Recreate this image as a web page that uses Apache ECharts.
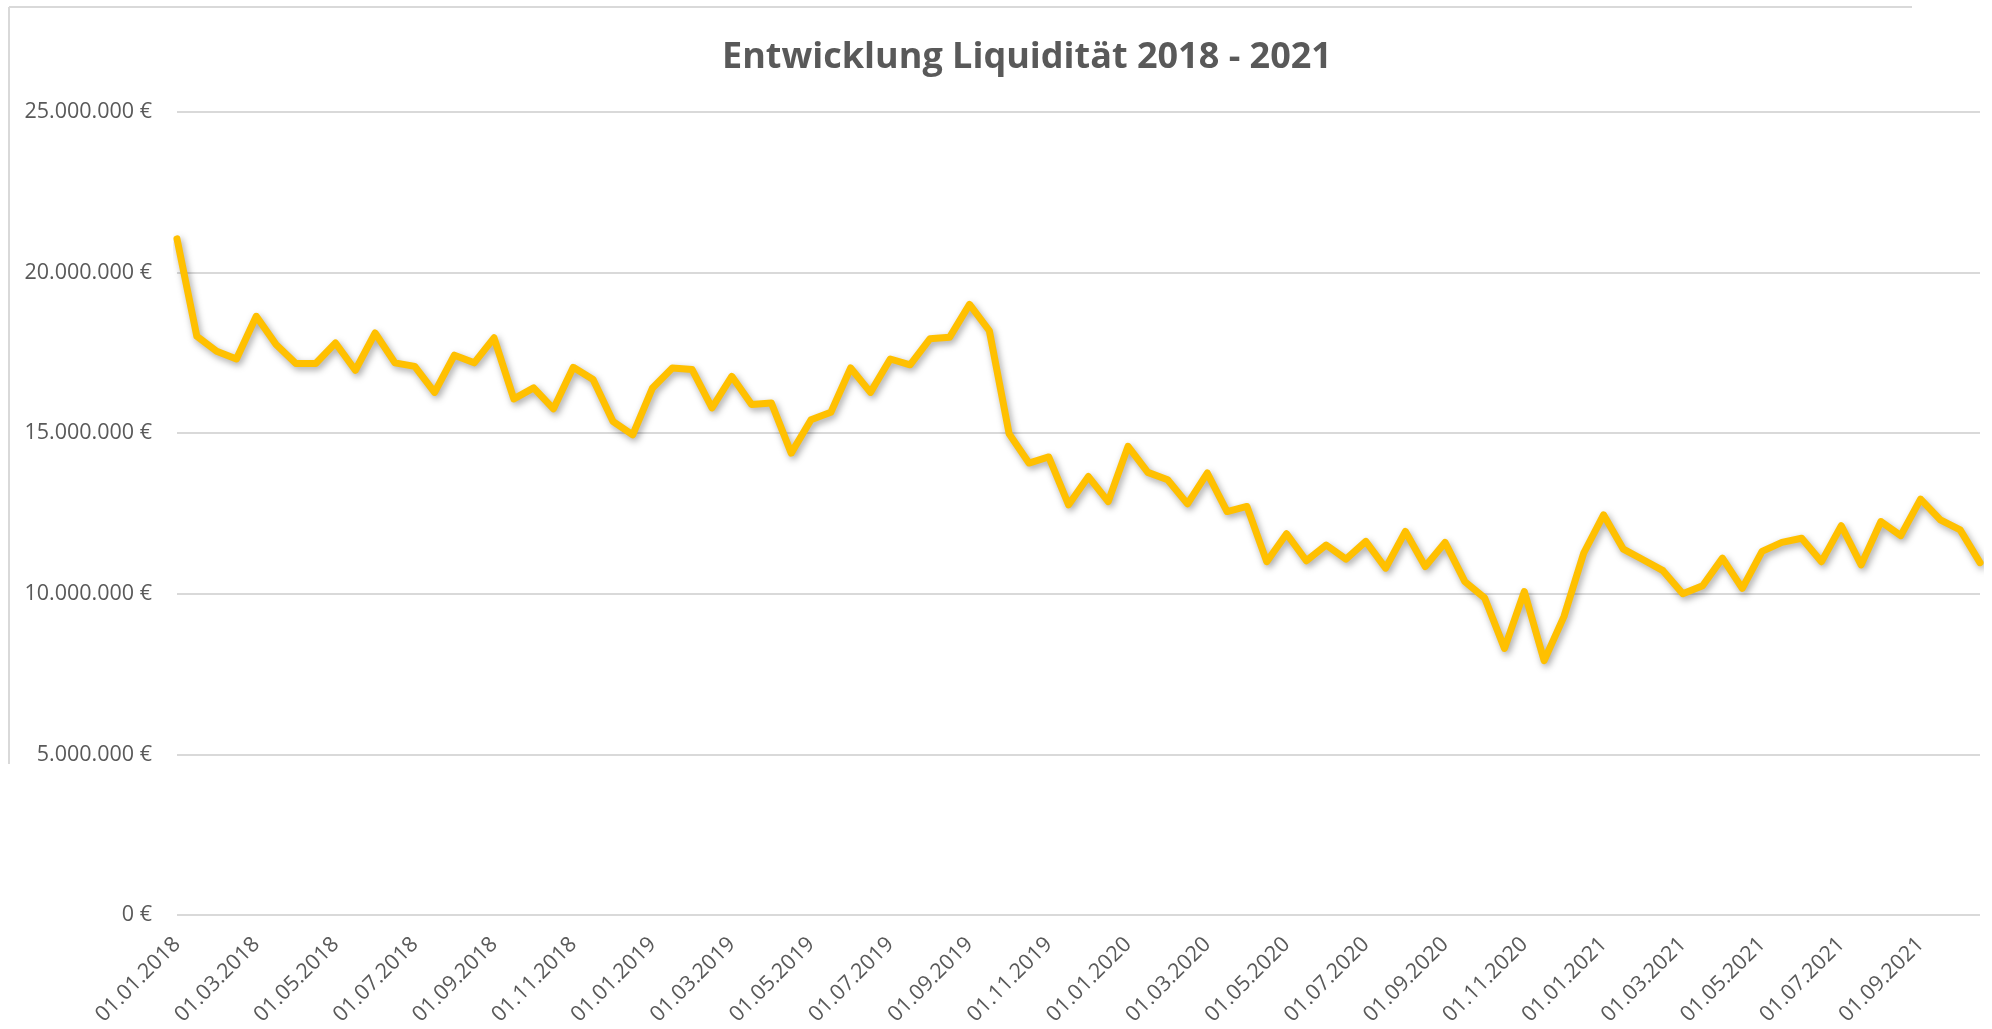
<!DOCTYPE html>
<html>
<head>
<meta charset="utf-8">
<script src="https://cdn.jsdelivr.net/npm/echarts@6/dist/echarts.min.js"></script>
<style>
  html, body { margin: 0; padding: 0; background: #fff; }
  #chart-container { width: 1992px; height: 1029px; }
</style>
</head>
<body>
<div id="chart-container"></div>
<script>
const titleText = 'Entwicklung Liquidität 2018 - 2021';

const dates = [
  '01.01.2018', '15.01.2018', '01.02.2018', '15.02.2018', '01.03.2018', '15.03.2018',
  '01.04.2018', '15.04.2018', '01.05.2018', '15.05.2018', '01.06.2018', '15.06.2018',
  '01.07.2018', '15.07.2018', '01.08.2018', '15.08.2018', '01.09.2018', '15.09.2018',
  '01.10.2018', '15.10.2018', '01.11.2018', '15.11.2018', '01.12.2018', '15.12.2018',
  '01.01.2019', '15.01.2019', '01.02.2019', '15.02.2019', '01.03.2019', '15.03.2019',
  '01.04.2019', '15.04.2019', '01.05.2019', '15.05.2019', '01.06.2019', '15.06.2019',
  '01.07.2019', '15.07.2019', '01.08.2019', '15.08.2019', '01.09.2019', '15.09.2019',
  '01.10.2019', '15.10.2019', '01.11.2019', '15.11.2019', '01.12.2019', '15.12.2019',
  '01.01.2020', '15.01.2020', '01.02.2020', '15.02.2020', '01.03.2020', '15.03.2020',
  '01.04.2020', '15.04.2020', '01.05.2020', '15.05.2020', '01.06.2020', '15.06.2020',
  '01.07.2020', '15.07.2020', '01.08.2020', '15.08.2020', '01.09.2020', '15.09.2020',
  '01.10.2020', '15.10.2020', '01.11.2020', '15.11.2020', '01.12.2020', '15.12.2020',
  '01.01.2021', '15.01.2021', '01.02.2021', '15.02.2021', '01.03.2021', '15.03.2021',
  '01.04.2021', '15.04.2021', '01.05.2021', '15.05.2021', '01.06.2021', '15.06.2021',
  '01.07.2021', '15.07.2021', '01.08.2021', '15.08.2021', '01.09.2021', '15.09.2021',
  '01.10.2021', '15.10.2021'
];

// Liquidität in Euro
const liquiditaet = [
  21050000, 18020000, 17550000, 17310000, 18640000, 17760000, 17170000, 17170000, 17810000, 16960000,
  18120000, 17190000, 17080000, 16270000, 17430000, 17190000, 17970000, 16070000, 16410000, 15760000,
  17050000, 16670000, 15370000, 14950000, 16410000, 17030000, 16980000, 15790000, 16770000, 15890000,
  15940000, 14380000, 15420000, 15650000, 17030000, 16270000, 17310000, 17130000, 17940000, 17990000,
  19010000, 18190000, 14980000, 14070000, 14260000, 12770000, 13650000, 12870000, 14590000, 13780000,
  13550000, 12800000, 13760000, 12560000, 12720000, 11000000, 11870000, 11030000, 11520000, 11080000,
  11630000, 10800000, 11940000, 10850000, 11600000, 10380000, 9870000, 8300000, 10070000, 7920000,
  9290000, 11270000, 12460000, 11390000, 11060000, 10720000, 10000000, 10250000, 11110000, 10170000,
  11320000, 11600000, 11730000, 11000000, 12120000, 10900000, 12250000, 11810000, 12950000, 12300000,
  11990000, 10970000
];

const yMin = 0;
const yMax = 25000000;
const yStep = 5000000;

function euro(value) {
  return String(value).replace(/\B(?=(\d{3})+(?!\d))/g, '.') + ' €';
}

function init() {
  let textColor = '#595959';
  let gridColor = '#d9d9d9';

  let option = {
    backgroundColor: '#ffffff',
    animation: false,
    title: {
      text: titleText,
      left: 717,
      top: 35,
      textStyle: {
        fontFamily: 'Open Sans',
        fontWeight: 'bold',
        fontSize: 36,
        color: textColor
      }
    },
    grid: {
      left: 177,
      right: 12,
      top: 112,
      bottom: 114,
      outerBoundsMode: 'none'
    },
    xAxis: {
      type: 'category',
      data: dates,
      boundaryGap: false,
      axisLine: { show: false },
      axisTick: { show: false },
      axisLabel: {
        interval: 3,
        rotate: 45,
        margin: 26,
        fontFamily: 'Open Sans',
        fontSize: 21.5,
        color: textColor
      }
    },
    yAxis: {
      type: 'value',
      min: yMin,
      max: yMax,
      interval: yStep,
      axisLine: { show: false },
      axisTick: { show: false },
      axisLabel: {
        margin: 25,
        fontFamily: 'Open Sans',
        fontSize: 21.5,
        color: textColor,
        formatter: euro
      },
      splitLine: {
        lineStyle: { color: gridColor, width: 2 }
      }
    },
    // frame of the cut-off chart area
    graphic: [
      {
        type: 'line',
        shape: { x1: 9, y1: 7, x2: 1912, y2: 7 },
        style: { stroke: gridColor, lineWidth: 2 }
      },
      {
        type: 'line',
        shape: { x1: 9, y1: 7, x2: 9, y2: 764 },
        style: { stroke: gridColor, lineWidth: 2 }
      }
    ],
    series: [
      {
        name: 'Liquidität',
        type: 'line',
        data: liquiditaet,
        showSymbol: false,
        smooth: false,
        lineStyle: {
          color: '#FFC000',
          width: 7,
          cap: 'round',
          join: 'round',
          shadowColor: 'rgba(0, 0, 0, 0.35)',
          shadowBlur: 7,
          shadowOffsetX: 2,
          shadowOffsetY: 3
        }
      }
    ]
  };

  let myChart = echarts.init(document.getElementById('chart-container'));
  myChart.setOption(option);
}
init();
</script>
</body>
</html>
